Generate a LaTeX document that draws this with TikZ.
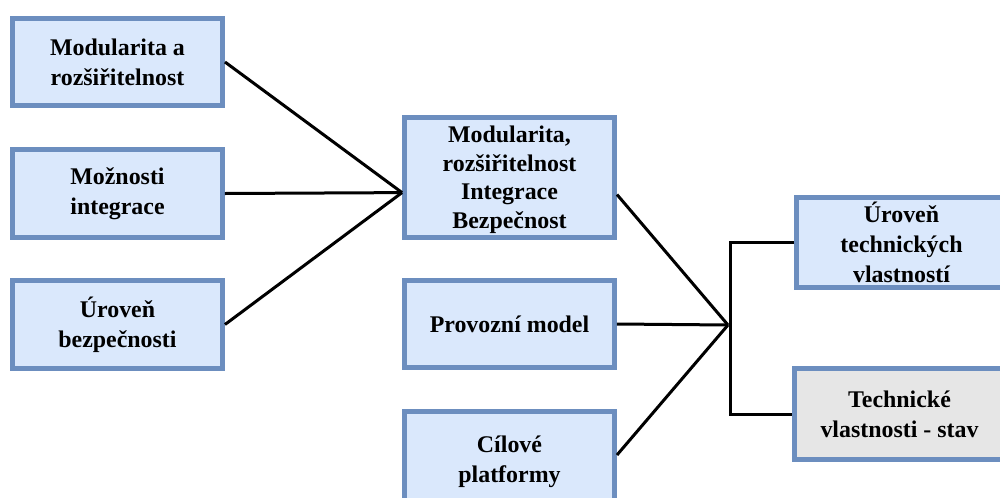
\documentclass[tikz,border=0pt]{standalone}
\usepackage{fontspec}
\setmainfont{Liberation Serif}
\definecolor{boxfill}{HTML}{DAE8FC}
\definecolor{boxline}{HTML}{6C8EBF}
\definecolor{grayfill}{HTML}{E6E6E6}
\begin{document}
\begin{tikzpicture}[x=0.02cm,y=-0.02cm,
  box/.style={draw=boxline,fill=boxfill,line width=0.1cm,minimum width=0.42cm*10,
    minimum height=1.76cm,inner sep=0pt,align=center,
    font=\fontsize{13.6pt}{17pt}\selectfont\bfseries},
  conn/.style={line width=0.06cm,black}]
\useasboundingbox (0,0) rectangle (1000,497);
\node[box] (B1) at (117.5,62) {Modularita a\\rozšiřitelnost};
\node[box] (B2) at (117.5,193.5) {Možnosti\\integrace};
\node[box] (B3) at (117.5,324.5) {Úroveň\\bezpečnosti};
\node[box,minimum height=2.4cm,font=\fontsize{13.6pt}{16.2pt}\selectfont\bfseries] (M1) at (509.5,177.5) {\\[-4pt]Modularita,\\rozšiřitelnost\\Integrace\\Bezpečnost};
\node[box] (M2) at (509.5,324) {Provozní model};
\node[box,minimum height=2.02cm] (M3) at (509.5,462) {Cílové\\platformy};
\node[box,minimum height=1.8cm] (R1) at (901.5,242.5) {Úroveň\\technických\\vlastností};
\node[box,fill=grayfill,minimum height=1.82cm] (R2) at (899.5,414) {Technické\\vlastnosti - stav};
\coordinate (J1) at (M1.188);
\coordinate (J2) at (728,325);
\draw[conn] (B1.east) -- (J1);
\draw[conn] (B2.east) -- (J1);
\draw[conn] (B3.east) -- (J1);
\draw[conn] (M1.-9) -- (J2);
\draw[conn] (M2.east) -- (J2);
\draw[conn] ([yshift=0.14cm]M3.east) -- (J2);
\draw[conn] (R1.west) -- ++(-64,0) |- (R2.west);
\end{tikzpicture}
\end{document}
